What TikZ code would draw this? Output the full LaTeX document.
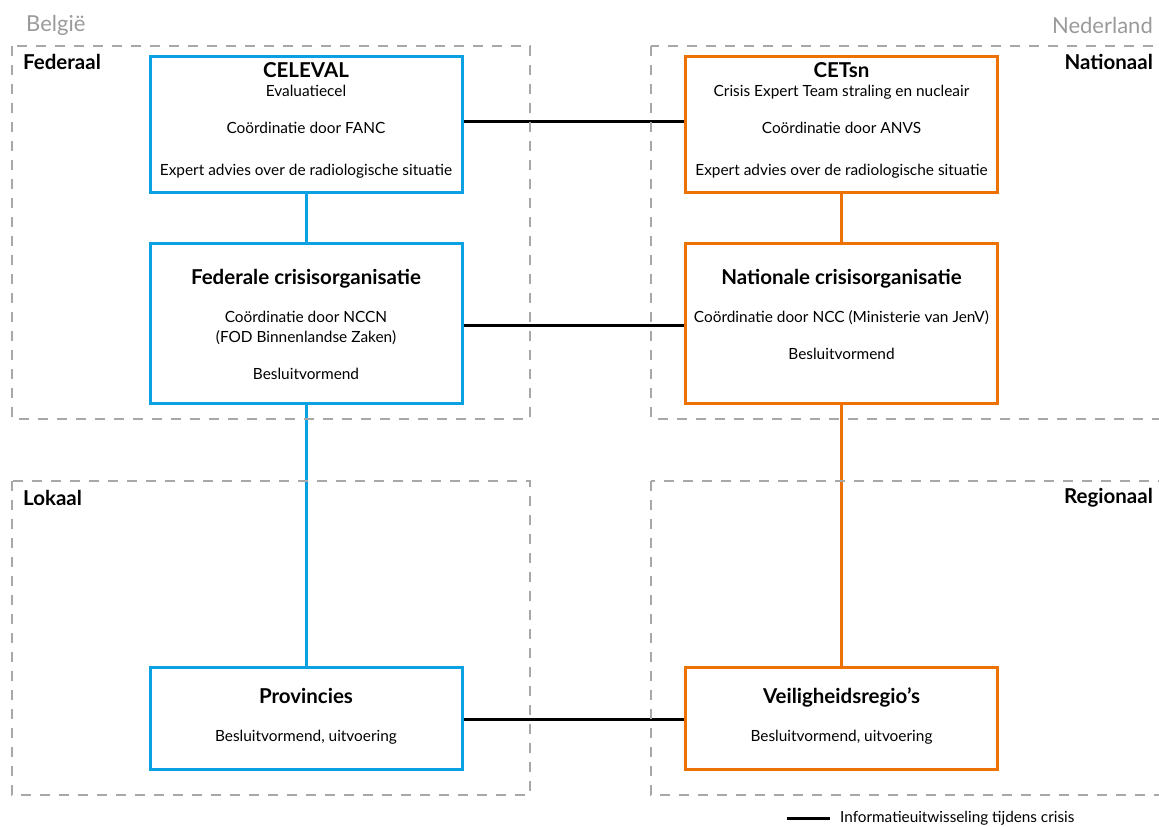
\documentclass[tikz,border=0pt]{standalone}
\usepackage{fontspec}
\setmainfont{Lato}
\definecolor{bblue}{HTML}{0AA0E2}
\definecolor{norange}{HTML}{EE7203}
\definecolor{dgray}{HTML}{A8A8A8}
\definecolor{cgray}{HTML}{9A9A9A}
\begin{document}
\begin{tikzpicture}[x=1pt,y=-1pt,
  region/.style={draw=dgray,line width=1.5pt,dash pattern=on 10pt off 9pt},
  orgbox/.style={draw,rectangle,fill=white,line width=3pt,minimum width=312pt,inner sep=0pt},
  bebox/.style={orgbox,draw=bblue},
  nlbox/.style={orgbox,draw=norange},
  infolink/.style={draw=black,line width=3pt},
  bluelink/.style={draw=bblue,line width=3pt},
  orangelink/.style={draw=norange,line width=3pt},
  ttl/.style={anchor=base,inner sep=0pt,font=\fontsize{20.5}{22}\selectfont\bfseries},
  txt/.style={anchor=base,inner sep=0pt,font=\fontsize{15.4}{17}\selectfont},
  lvl/.style={inner sep=0pt,font=\fontsize{20.5}{22}\selectfont\bfseries},
  ctry/.style={inner sep=0pt,text=cgray,font=\fontsize{22}{24}\selectfont},
]
\useasboundingbox (0,0) rectangle (1159,827);

% boxes
\node[bebox,minimum height=136pt] (celeval) at (306,124) {};
\node[nlbox,minimum height=136pt] (cetsn) at (841.5,124) {};
\node[bebox,minimum height=160pt] (federale) at (306,323) {};
\node[nlbox,minimum height=160pt] (nationale) at (841.5,323) {};
\node[bebox,minimum height=102pt] (prov) at (306,718) {};
\node[nlbox,minimum height=102pt] (veil) at (841.5,718) {};

% anchor points for horizontal connectors
\coordinate (c1a) at ([yshift=3pt]celeval.east);
\coordinate (c1b) at ([yshift=3pt]cetsn.west);
\coordinate (c2a) at ([yshift=-2pt]federale.east);
\coordinate (c2b) at ([yshift=-2pt]nationale.west);
\coordinate (c3a) at ([yshift=-1pt]prov.east);
\coordinate (c3b) at ([yshift=-1pt]veil.west);

% connectors
\draw[infolink] (c1a) -- (c1b);
\draw[infolink] (c2a) -- (c2b);
\draw[infolink] (c3a) -- (c3b);
\draw[bluelink] (celeval.south) -- (federale.north);
\draw[bluelink] (federale.south) -- (prov.north);
\draw[orangelink] (cetsn.south) -- (nationale.north);
\draw[orangelink] (nationale.south) -- (veil.north);

% regions
\draw[region] (12,46) rectangle (530,419);
\draw[region] (651,46) rectangle (1175,419);
\draw[region] (12,481) rectangle (530,795);
\draw[region] (651,481) rectangle (1175,795);

% redraw boxes on top
\node[bebox,minimum height=136pt] at (celeval) {};
\node[nlbox,minimum height=136pt] at (cetsn) {};
\node[bebox,minimum height=160pt] at (federale) {};
\node[nlbox,minimum height=160pt] at (nationale) {};
\node[bebox,minimum height=102pt] at (prov) {};
\node[nlbox,minimum height=102pt] at (veil) {};

% country and level labels
\node[ctry,anchor=west] (be) at (26,25) {België};
\node[ctry,anchor=east] (nl) at (1153,25) {Nederland};
\node[lvl,anchor=west] (fed) at (23,62) {Federaal};
\node[lvl,anchor=east] (nat) at (1153,62) {Nationaal};
\node[lvl,anchor=west] (lok) at (23,498) {Lokaal};
\node[lvl,anchor=east] (reg) at (1153,498) {Regionaal};

% CELEVAL texts
\node[ttl] (t1) at (306,77) {CELEVAL};
\node[txt] (t2) at (306,96.5) {Evaluatiecel};
\node[txt] (t3) at (306,133.5) {Coördinatie door FANC};
\node[txt] (t4) at (306,175.5) {Expert advies over de radiologische situatie};
% CETsn texts
\node[ttl] (u1) at (841.5,77) {CETsn};
\node[txt] (u2) at (841.5,96.5) {Crisis Expert Team straling en nucleair};
\node[txt] (u3) at (841.5,133.5) {Coördinatie door ANVS};
\node[txt] (u4) at (841.5,175.5) {Expert advies over de radiologische situatie};
% Federale
\node[ttl] (f1) at (306,284) {Federale crisisorganisatie};
\node[txt] (f2) at (306,322.5) {Coördinatie door NCCN};
\node[txt] (f3) at (306,342.5) {(FOD Binnenlandse Zaken)};
\node[txt] (f4) at (306,379.5) {Besluitvormend};
% Nationale
\node[ttl] (n1) at (841.5,284) {Nationale crisisorganisatie};
\node[txt] (n2) at (841.5,322.5) {Coördinatie door NCC (Ministerie van JenV)};
\node[txt] (n3) at (841.5,359.5) {Besluitvormend};
% Provincies
\node[ttl] (p1) at (306,703) {Provincies};
\node[txt] (p2) at (306,741.5) {Besluitvormend, uitvoering};
% Veiligheidsregio's
\node[ttl] (v1) at (841.5,703) {Veiligheidsregio’s};
\node[txt] (v2) at (841.5,741.5) {Besluitvormend, uitvoering};

% legend
\coordinate (lg1) at (787,818);
\coordinate (lg2) at (830,818);
\draw[infolink] (lg1) -- (lg2);
\node[inner sep=0pt,anchor=west,font=\fontsize{15.3}{17}\selectfont] (lgt) at (840,818) {Informatieuitwisseling tijdens crisis};
\end{tikzpicture}
\end{document}
